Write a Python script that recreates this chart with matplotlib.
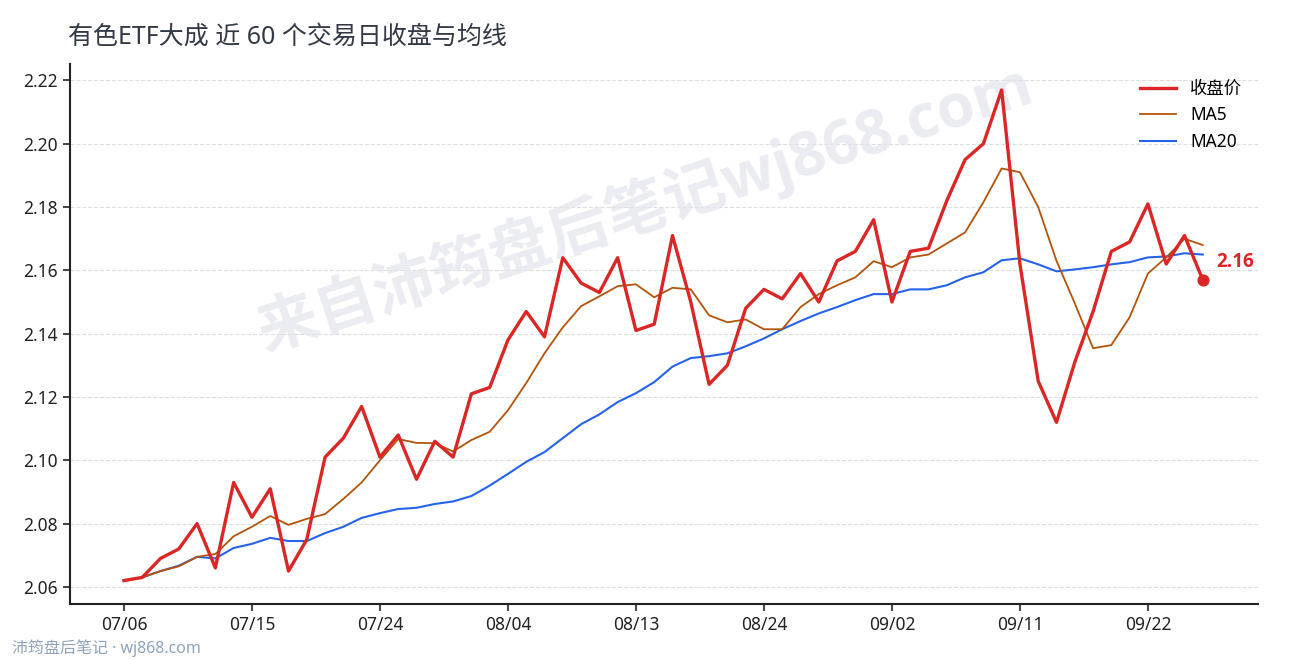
import matplotlib
matplotlib.use("Agg")
import matplotlib.pyplot as plt
import pandas as pd

plt.rcParams['font.family'] = ['Noto Sans', 'Noto Sans CJK SC', 'DejaVu Sans']
BOLD = ['Open Sans', 'Noto Sans CJK SC', 'DejaVu Sans']

dates = pd.bdate_range('2026-07-06', periods=60).strftime('%m/%d').tolist()

close = [2.062, 2.063, 2.069, 2.072, 2.080, 2.066, 2.093, 2.082, 2.091, 2.065,
         2.075, 2.101, 2.107, 2.117, 2.101, 2.108, 2.094, 2.106, 2.101, 2.121,
         2.123, 2.138, 2.147, 2.139, 2.164, 2.156, 2.153, 2.164, 2.141, 2.143,
         2.171, 2.150, 2.124, 2.130, 2.148, 2.154, 2.151, 2.159, 2.150, 2.163,
         2.166, 2.176, 2.150, 2.166, 2.167, 2.182, 2.195, 2.200, 2.217, 2.162,
         2.125, 2.112, 2.131, 2.147, 2.166, 2.169, 2.181, 2.162, 2.171, 2.157]

ma5 = [2.062, 2.063, 2.065, 2.0665, 2.0695, 2.0704, 2.076, 2.079, 2.0824, 2.0796,
       2.0815, 2.083, 2.0878, 2.093, 2.100, 2.1067, 2.1055, 2.1054, 2.1028, 2.1064,
       2.109, 2.1158, 2.1244, 2.1338, 2.142, 2.1487, 2.1518, 2.155, 2.1556, 2.1515,
       2.1545, 2.154, 2.1458, 2.1436, 2.1445, 2.1414, 2.1414, 2.1484, 2.1525, 2.1553,
       2.1578, 2.1629, 2.161, 2.1641, 2.165, 2.1685, 2.172, 2.1815, 2.1922, 2.191,
       2.180, 2.163, 2.1496, 2.1354, 2.1364, 2.1452, 2.159, 2.1641, 2.170, 2.168]

ma20 = [2.062, 2.063, 2.065, 2.0667, 2.0695, 2.069, 2.0723, 2.0736, 2.0755, 2.0745,
        2.0745, 2.077, 2.079, 2.0818, 2.0833, 2.0846, 2.085, 2.0862, 2.087, 2.0887,
        2.092, 2.0957, 2.0995, 2.1026, 2.107, 2.1114, 2.1145, 2.1184, 2.1212, 2.1247,
        2.1296, 2.1323, 2.1329, 2.1338, 2.136, 2.1385, 2.1414, 2.144, 2.1464, 2.1484,
        2.1506, 2.1525, 2.1525, 2.154, 2.154, 2.1553, 2.1578, 2.1594, 2.1632, 2.1638,
        2.1619, 2.1597, 2.1603, 2.161, 2.1619, 2.1626, 2.1641, 2.1644, 2.1654, 2.165]

x = list(range(len(dates)))

fig = plt.figure(figsize=(12.9, 6.6), dpi=100)
ax = fig.add_axes([70 / 1290, 1 - 604 / 660, (1258 - 70) / 1290, (604 - 64) / 660])

# big watermark, behind the lines
ax.text(645 / 1290, 1 - 208 / 660, '来自沛筠盘后笔记wj868.com', transform=fig.transFigure,
        fontsize=44, fontweight='bold', family=BOLD, color='#e3e6ee', alpha=0.75,
        rotation=18, ha='center', va='center', zorder=1)

ax.plot(x, ma20, color='#2563eb', lw=1.5, label='MA20', zorder=3)
ax.plot(x, ma5, color='#b45309', lw=1.3, label='MA5', zorder=3)
ax.plot(x, close, color='#dc2626', lw=2.4, label='收盘价', zorder=4)
ax.scatter([x[-1]], [close[-1]], s=60, color='#dc2626', zorder=5)
ax.annotate(f'{close[-1]:.2f}', (x[-1], close[-1]), xytext=(10, 13), textcoords='offset points',
            color='#dc2626', fontsize=13.5, fontweight='bold', family=BOLD,
            ha='left', va='center')

ax.set_xlim(-2.95, 62.02)
ax.set_ylim(2.0546, 2.2252)
ax.set_xticks(x[::7])
ax.set_xticklabels(dates[::7])
ax.set_yticks([2.06, 2.08, 2.10, 2.12, 2.14, 2.16, 2.18, 2.20, 2.22])
ax.yaxis.set_major_formatter(matplotlib.ticker.FormatStrFormatter('%.2f'))
ax.tick_params(labelsize=12.5, length=5, width=1.2, colors='#222222')
ax.grid(axis='y', linestyle='--', color='#dddddd', lw=0.8)
ax.set_axisbelow(True)
for s in ['top', 'right']:
    ax.spines[s].set_visible(False)
for s in ['left', 'bottom']:
    ax.spines[s].set_linewidth(1.5)
    ax.spines[s].set_color('#222222')

h, l = ax.get_legend_handles_labels()
ax.legend(h[::-1], l[::-1], loc='upper right', frameon=False, fontsize=12.5,
          bbox_to_anchor=(1.0, 1.0), handlelength=2.1)

fig.text(68 / 1290, 1 - 37 / 660, '有色ETF大成 近 60 个交易日收盘与均线', fontsize=18,
         color='#333a45', ha='left', va='center')
fig.text(12 / 1290, 1 - 648 / 660, '沛筠盘后笔记 · wj868.com', fontsize=11.5,
         color='#8fa3bf', ha='left', va='center')

fig.savefig('out.png', dpi=100)
